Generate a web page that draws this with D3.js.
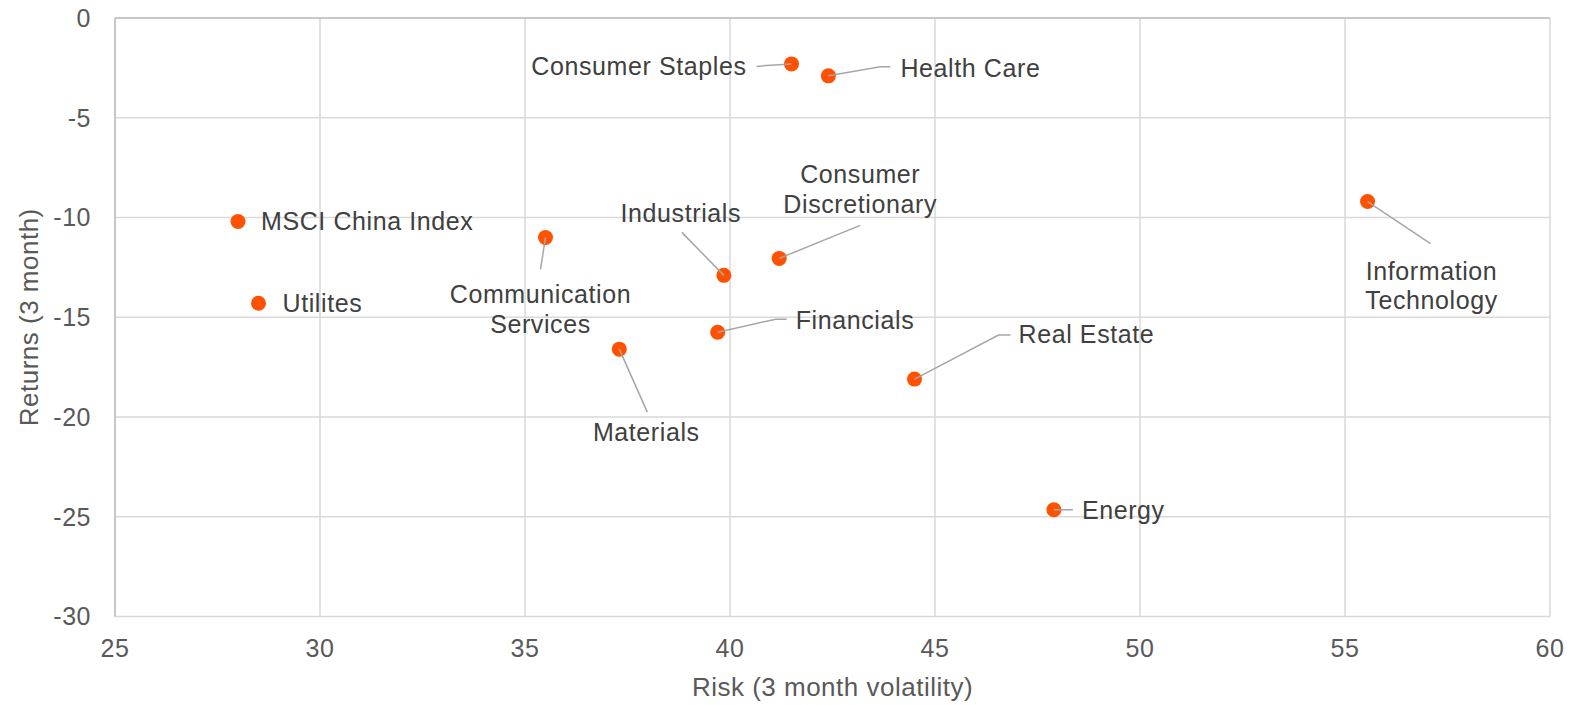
<!DOCTYPE html>
<html>
<head>
<meta charset="utf-8">
<script src="https://cdn.jsdelivr.net/npm/d3@7"></script>
<style>
  body { margin: 0; background: #fff; }
  text { font-family: "Liberation Sans", Arial, sans-serif; }
</style>
</head>
<body>
<div id="chart"></div>
<script>
// sectors, risk (x) and returns (y)
var sectors = ["MSCI China Index", "Utilites", "Consumer Staples", "Health Care",
  "Communication Services", "Industrials", "Consumer Discretionary", "Financials",
  "Materials", "Real Estate", "Energy", "Information Technology"];
var risk = [28.0, 28.5, 41.5, 42.4, 35.5, 39.85, 41.2, 39.7, 37.3, 44.5, 47.9, 55.55];
var returns = [-10.2, -14.3, -2.3, -2.9, -11.0, -12.9, -12.05, -15.75, -16.6, -18.1, -24.65, -9.2];
var xTicks = [25, 30, 35, 40, 45, 50, 55, 60];
var yTicks = [0, -5, -10, -15, -20, -25, -30];

// label layout: text lines, anchor offset from point, leader path offsets
var labelLayout = [
  { lines: ["MSCI China Index"], dx: 23, dy: 0, anchor: "start", leader: null },
  { lines: ["Utilites"], dx: 24, dy: 0, anchor: "start", leader: null },
  { lines: ["Consumer Staples"], dx: -45, dy: 2, anchor: "end", leader: [[-25, 1.5], [-35, 2.5]] },
  { lines: ["Health Care"], dx: 72, dy: -8, anchor: "start", leader: [[52, -9], [62, -9]] },
  { lines: ["Communication", "Services"], dx: -5, dy: 72, anchor: "middle", leader: [[-5, 32]] },
  { lines: ["Industrials"], dx: -43, dy: -62, anchor: "middle", leader: [[-42, -43]] },
  { lines: ["Consumer", "Discretionary"], dx: 81, dy: -69, anchor: "middle", leader: [[81, -33]] },
  { lines: ["Financials"], dx: 78, dy: -12, anchor: "start", leader: [[58, -13], [69, -13]] },
  { lines: ["Materials"], dx: 27, dy: 83, anchor: "middle", leader: [[28, 63]] },
  { lines: ["Real Estate"], dx: 104, dy: -45, anchor: "start", leader: [[84, -44], [96, -44]] },
  { lines: ["Energy"], dx: 28, dy: 0, anchor: "start", leader: [[19, 0]] },
  { lines: ["Information", "Technology"], dx: 64, dy: 84, anchor: "middle", leader: [[63, 42]] }
];

var width = 1579, height = 705;
var margin = { top: 18, right: 29, bottom: 89, left: 115 };

var svg = d3.select("#chart").append("svg")
  .attr("width", width)
  .attr("height", height);

var x = d3.scaleLinear().domain([25, 60]).range([margin.left, width - margin.right]);
var y = d3.scaleLinear().domain([-30, 0]).range([height - margin.bottom + 0.5, margin.top]);

// gridlines
svg.append("g").selectAll("line.vgrid")
  .data(xTicks)
  .enter().append("line")
  .attr("x1", function(d) { return x(d); })
  .attr("x2", function(d) { return x(d); })
  .attr("y1", y(-30)).attr("y2", y(0))
  .attr("stroke", "#d9d9d9").attr("stroke-width", 1.5);
svg.append("g").selectAll("line.hgrid")
  .data(yTicks)
  .enter().append("line")
  .attr("x1", x(25)).attr("x2", x(60))
  .attr("y1", function(d) { return y(d); })
  .attr("y2", function(d) { return y(d); })
  .attr("stroke", "#d9d9d9").attr("stroke-width", 1.5);
// darker top and left edges
svg.append("line").attr("x1", x(25)).attr("x2", x(60)).attr("y1", y(0)).attr("y2", y(0))
  .attr("stroke", "#bfbfbf").attr("stroke-width", 1.5);
svg.append("line").attr("x1", x(25)).attr("x2", x(25)).attr("y1", y(0)).attr("y2", y(-30))
  .attr("stroke", "#bfbfbf").attr("stroke-width", 1.5);

// tick labels
svg.append("g").selectAll("text")
  .data(xTicks)
  .enter().append("text")
  .attr("x", function(d) { return x(d); })
  .attr("y", y(-30) + 40)
  .attr("text-anchor", "middle")
  .attr("fill", "#595959")
  .style("font-size", "25px")
  .style("letter-spacing", "0.5px")
  .text(function(d) { return d; });
svg.append("g").selectAll("text")
  .data(yTicks)
  .enter().append("text")
  .attr("x", 91)
  .attr("y", function(d) { return y(d); })
  .attr("dy", "0.35em")
  .attr("text-anchor", "end")
  .attr("fill", "#595959")
  .style("font-size", "25px")
  .style("letter-spacing", "0.5px")
  .text(function(d) { return d; });

// axis titles
svg.append("text")
  .attr("x", (x(25) + x(60)) / 2)
  .attr("y", 696)
  .attr("text-anchor", "middle")
  .attr("fill", "#595959")
  .style("font-size", "26px")
  .style("letter-spacing", "0.5px")
  .text("Risk (3 month volatility)");
svg.append("text")
  .attr("transform", "translate(38," + (y(-15)) + ") rotate(-90)")
  .attr("text-anchor", "middle")
  .attr("fill", "#595959")
  .style("font-size", "26px")
  .style("letter-spacing", "0.5px")
  .text("Returns (3 month)");

// leader lines
var pts = sectors.map(function(s, i) { return [x(risk[i]), y(returns[i])]; });
svg.append("g").selectAll("path")
  .data(labelLayout)
  .enter().filter(function(d) { return d.leader; })
  .append("path")
  .attr("d", function(d) {
    var i = labelLayout.indexOf(d);
    var p = pts[i];
    var line = d3.line();
    return line([p].concat(d.leader.map(function(o) { return [p[0] + o[0], p[1] + o[1]]; })));
  })
  .attr("fill", "none")
  .attr("stroke", "#a6a6a6")
  .attr("stroke-width", 1.5);

// points
svg.append("g").selectAll("circle")
  .data(sectors)
  .enter().append("circle")
  .attr("cx", function(d, i) { return x(risk[i]); })
  .attr("cy", function(d, i) { return y(returns[i]); })
  .attr("r", 7.5)
  .attr("fill", "#ff5100");

// leader ends over points (drawn above dots like the original)
svg.append("g").selectAll("path")
  .data(labelLayout)
  .enter().filter(function(d) { return d.leader; })
  .append("path")
  .attr("d", function(d) {
    var i = labelLayout.indexOf(d);
    var p = pts[i];
    var o = d.leader[0];
    var len = Math.sqrt(o[0] * o[0] + o[1] * o[1]);
    return "M" + p[0] + "," + p[1] + "L" + (p[0] + o[0] * 7 / len) + "," + (p[1] + o[1] * 7 / len);
  })
  .attr("stroke", "#a6a6a6")
  .attr("stroke-width", 1.5);

// labels
var labels = svg.append("g").selectAll("text")
  .data(labelLayout)
  .enter().append("text")
  .attr("text-anchor", function(d) { return d.anchor; })
  .attr("fill", "#404040")
  .style("font-size", "25px")
  .style("letter-spacing", "0.6px");
labels.each(function(d, i) {
  var p = pts[i];
  var n = d.lines.length;
  var t = d3.select(this);
  d.lines.forEach(function(line, k) {
    t.append("tspan")
      .attr("x", p[0] + d.dx)
      .attr("y", p[1] + d.dy + (k - (n - 1) / 2) * 29.5)
      .attr("dy", "0.35em")
      .text(line);
  });
});
</script>
</body>
</html>
